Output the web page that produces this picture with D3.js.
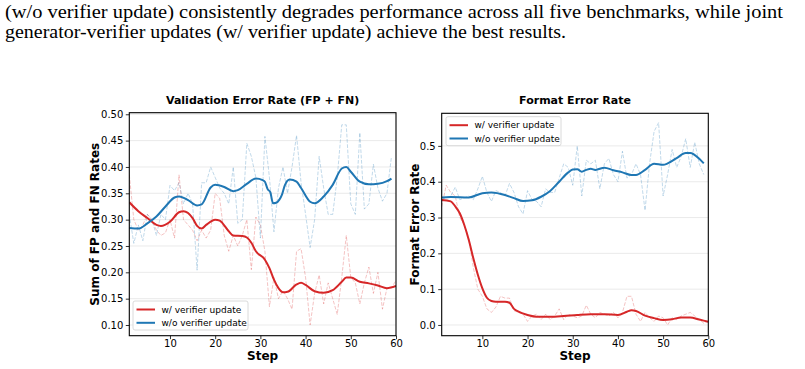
<!DOCTYPE html>
<html>
<head>
<meta charset="utf-8">
<script src="https://cdn.jsdelivr.net/npm/d3@7"></script>
<style>
  body { margin: 0; background: #fff; }
  svg { display: block; }
</style>
</head>
<body>
<svg id="fig" width="805" height="369"></svg>
<script>
// caption lines from the paper
const captionLines = [
    '(w/o verifier update) consistently degrades performance across all five benchmarks, while joint',
    'generator-verifier updates (w/ verifier update) achieve the best results.'
];

const seriesNames = ['w/ verifier update', 'w/o verifier update'];
const xTicks = [10, 20, 30, 40, 50, 60];

// --- Validation error rate: raw per-step values (step 1..n)
const valRawWith = [0.385, 0.30, 0.28, 0.29, 0.31, 0.30, 0.28, 0.27, 0.275, 0.30,
    0.265, 0.385, 0.30, 0.29, 0.28, 0.26, 0.28, 0.265, 0.28, 0.35,
    0.34, 0.27, 0.24, 0.27, 0.25, 0.27, 0.30, 0.205, 0.305, 0.29,
    0.24, 0.135, 0.19, 0.15, 0.165, 0.15, 0.13, 0.24, 0.245, 0.19,
    0.10, 0.16, 0.195, 0.14, 0.18, 0.15, 0.12, 0.19, 0.27, 0.19,
    0.18, 0.14, 0.18, 0.21, 0.16, 0.20, 0.13, 0.17, 0.17, 0.185];
const valRawWithout = [0.31, 0.255, 0.29, 0.26, 0.31, 0.30, 0.27, 0.31, 0.30, 0.365,
    0.355, 0.37, 0.33, 0.35, 0.33, 0.204, 0.37, 0.37, 0.40, 0.38,
    0.36, 0.35, 0.33, 0.40, 0.293, 0.30, 0.445, 0.42, 0.38, 0.265,
    0.458, 0.38, 0.277, 0.36, 0.40, 0.35, 0.40, 0.46, 0.37, 0.31,
    0.247, 0.30, 0.42, 0.36, 0.31, 0.31, 0.38, 0.48, 0.48, 0.33,
    0.31, 0.465, 0.32, 0.33, 0.405, 0.36, 0.335, 0.35, 0.42];

// smoothed curves (read at selected steps)
const valSmoothWithSteps = [1, 3, 5, 7, 8, 10, 12, 13, 15, 16, 17, 18, 20, 21, 23, 24, 26, 27, 28, 29,
    31, 32, 33, 34, 35, 36, 38, 39, 40, 42, 44, 46, 48, 49, 50, 52, 54, 56, 58, 60];
const valSmoothWith = [0.333, 0.316, 0.303, 0.290, 0.288, 0.296, 0.314, 0.316, 0.303, 0.288, 0.283, 0.290, 0.300, 0.298, 0.278, 0.270,
    0.269, 0.266, 0.256, 0.240, 0.224, 0.208, 0.186, 0.170, 0.162, 0.163, 0.177, 0.180, 0.176, 0.164, 0.161, 0.166,
    0.182, 0.190, 0.190, 0.182, 0.179, 0.175, 0.170, 0.174];
const valSmoothWithoutSteps = [1, 3, 5, 7, 9, 11, 12, 14, 16, 17, 19, 20, 22, 24, 25, 27, 29, 30.5, 31, 31.6,
    32.2, 32.8, 33.5, 34.2, 34.8, 35.4, 36.5, 38, 39, 41, 42, 44, 46, 48, 49, 50, 52, 54, 56, 58, 59];
const valSmoothWithout = [0.284, 0.283, 0.293, 0.306, 0.325, 0.342, 0.344, 0.337, 0.327, 0.329, 0.361, 0.366, 0.362, 0.354, 0.356,
    0.368, 0.378, 0.375, 0.372, 0.358, 0.352, 0.331, 0.332, 0.338, 0.348, 0.365, 0.376, 0.372, 0.360, 0.334, 0.331, 0.344,
    0.366, 0.397, 0.400, 0.391, 0.372, 0.367, 0.368, 0.373, 0.378];

// --- Format error rate
const fmtRawWith = [0.33, 0.39, 0.37, 0.36, 0.30, 0.28, 0.24, 0.16, 0.10, 0.08,
    0.045, 0.035, 0.05, 0.08, 0.075, 0.075, 0.04, 0.035, 0.03, 0.01,
    0.025, 0.03, 0.015, 0.03, 0.015, 0.025, 0.045, 0.015, 0.03, 0.025,
    0.02, 0.025, 0.055, 0.03, 0.02, 0.035, 0.03, 0.025, 0.035, 0.02,
    0.035, 0.08, 0.08, 0.03, 0.01, 0.035, 0.02, 0.01, 0.025, 0.02,
    0.0, 0.02, 0.015, 0.025, 0.03, 0.035, 0.025, 0.015, 0.005, 0.01];
const fmtRawWithout = [0.35, 0.355, 0.36, 0.385, 0.35, 0.355, 0.36, 0.35, 0.38, 0.415,
    0.37, 0.345, 0.375, 0.37, 0.36, 0.395, 0.37, 0.33, 0.31, 0.375,
    0.35, 0.345, 0.33, 0.38, 0.37, 0.37, 0.41, 0.45, 0.44, 0.39,
    0.50, 0.36, 0.46, 0.45, 0.46, 0.38, 0.45, 0.465, 0.42, 0.40,
    0.485, 0.41, 0.42, 0.45, 0.42, 0.32, 0.45, 0.54, 0.565, 0.36,
    0.42, 0.49, 0.44, 0.47, 0.52, 0.44, 0.51, 0.45, 0.42];

const fmtSmoothWithSteps = [1, 3, 4, 5, 6, 7, 8, 9, 10, 11, 12, 13, 14, 15, 16, 17, 18, 20, 22, 25,
    28, 31, 34, 37, 40, 42, 43, 44, 46, 48, 50, 52, 54, 56, 58, 60];
const fmtSmoothWith = [0.349, 0.345, 0.331, 0.312, 0.279, 0.237, 0.186, 0.140, 0.102, 0.076, 0.067, 0.065, 0.065, 0.065,
    0.062, 0.045, 0.037, 0.028, 0.023, 0.023, 0.025, 0.028, 0.030, 0.030, 0.028, 0.037, 0.041, 0.039, 0.026,
    0.019, 0.014, 0.016, 0.021, 0.021, 0.015, 0.009];
const fmtSmoothWithoutSteps = [1, 3, 7, 10, 12, 15, 17, 19, 21, 23, 25, 27, 29, 30, 31, 32, 33, 34, 35, 37,
    39, 41, 43, 44, 46, 48, 50, 51, 53, 55, 56, 58, 59];
const fmtSmoothWithout = [0.356, 0.357, 0.356, 0.368, 0.370, 0.363, 0.354, 0.346, 0.348, 0.358, 0.374, 0.400, 0.426,
    0.434, 0.435, 0.428, 0.433, 0.436, 0.433, 0.439, 0.432, 0.426, 0.419, 0.419, 0.433, 0.450, 0.447, 0.451,
    0.466, 0.480, 0.480, 0.464, 0.451];

const valTicks = [0.10, 0.15, 0.20, 0.25, 0.30, 0.35, 0.40, 0.45, 0.50];
const fmtTicks = [0.0, 0.1, 0.2, 0.3, 0.4, 0.5];

const RED = '#d62728';
const BLUE = '#1f77b4';
const svg = d3.select('#fig');

// caption (justified first line)
svg.append('text')
    .attr('x', 5).attr('y', 18)
    .attr('textLength', 778).attr('lengthAdjust', 'spacingAndGlyphs')
    .style('font-family', '"Liberation Serif", "DejaVu Serif", serif')
    .style('font-size', '18px')
    .text(captionLines[0]);
svg.append('text')
    .attr('x', 5).attr('y', 37.5)
    .attr('textLength', 561).attr('lengthAdjust', 'spacingAndGlyphs')
    .style('font-family', '"Liberation Serif", "DejaVu Serif", serif')
    .style('font-size', '18px')
    .text(captionLines[1]);

const toPoints = (steps, vals) => vals.map((v, i) => [steps ? steps[i] : i + 1, v]);

function drawPanel(cfg) {
    const x = d3.scaleLinear().domain([1, 60]).range([cfg.left, cfg.right]);
    const y = d3.scaleLinear().domain(cfg.yDomain).range([cfg.bottom, cfg.top]);
    const g = svg.append('g').style('font-family', '"DejaVu Sans", sans-serif');

    // grid
    g.append('g').selectAll('line')
        .data(cfg.yTicks)
        .join('line')
        .attr('x1', cfg.left).attr('x2', cfg.right)
        .attr('y1', d => y(d)).attr('y2', d => y(d))
        .attr('stroke', '#b0b0b0').attr('stroke-opacity', 0.3).attr('stroke-width', 0.9);

    const clipId = 'clip-' + cfg.id;
    g.append('clipPath').attr('id', clipId)
        .append('rect')
        .attr('x', cfg.left).attr('y', cfg.top)
        .attr('width', cfg.right - cfg.left).attr('height', cfg.bottom - cfg.top);

    const rawLine = d3.line().x(d => x(d[0])).y(d => y(d[1]));
    const smoothLine = d3.line().x(d => x(d[0])).y(d => y(d[1])).curve(d3.curveMonotoneX);
    const plot = g.append('g').attr('clip-path', `url(#${clipId})`);

    [[cfg.rawWith, RED], [cfg.rawWithout, BLUE]].forEach(([vals, color]) => {
        plot.append('path')
            .datum(toPoints(null, vals))
            .attr('d', rawLine)
            .attr('fill', 'none')
            .attr('stroke', color).attr('stroke-opacity', 0.28)
            .attr('stroke-width', 1).attr('stroke-dasharray', '3.7,1.6');
    });
    [[cfg.smWithSteps, cfg.smWith, RED], [cfg.smWithoutSteps, cfg.smWithout, BLUE]].forEach(([s, vals, color]) => {
        plot.append('path')
            .datum(toPoints(s, vals))
            .attr('d', smoothLine)
            .attr('fill', 'none')
            .attr('stroke', color).attr('stroke-width', 2);
    });

    // axes
    const xAxis = g.append('g')
        .attr('transform', `translate(0,${cfg.bottom})`)
        .call(d3.axisBottom(x).tickValues(xTicks).tickSize(3.5).tickPadding(1));
    const yAxis = g.append('g')
        .attr('transform', `translate(${cfg.left},0)`)
        .call(d3.axisLeft(y).tickValues(cfg.yTicks).tickFormat(d3.format(cfg.fmt)).tickSize(3.5).tickPadding(2.5));
    [xAxis, yAxis].forEach(a => {
        a.select('.domain').remove();
        a.selectAll('line').attr('stroke', '#000').attr('stroke-width', 0.8);
        a.selectAll('text').style('font-size', '10px').style('font-family', '"DejaVu Sans", sans-serif').attr('fill', '#000');
    });

    g.append('rect')
        .attr('x', cfg.left).attr('y', cfg.top)
        .attr('width', cfg.right - cfg.left).attr('height', cfg.bottom - cfg.top)
        .attr('fill', 'none').attr('stroke', '#000').attr('stroke-width', 1.1);

    // titles
    g.append('text')
        .attr('x', (cfg.left + cfg.right) / 2).attr('y', 104)
        .attr('text-anchor', 'middle')
        .style('font-size', '11px').style('font-weight', 'bold')
        .text(cfg.title);
    g.append('text')
        .attr('x', (cfg.left + cfg.right) / 2).attr('y', 359.5)
        .attr('text-anchor', 'middle')
        .style('font-size', '12px').style('font-weight', 'bold')
        .text('Step');
    g.append('text')
        .attr('transform', `translate(${cfg.yLabelX},${(cfg.top + cfg.bottom) / 2}) rotate(-90)`)
        .attr('text-anchor', 'middle')
        .style('font-size', '12px').style('font-weight', 'bold')
        .text(cfg.yLabel);

    // legend
    const lg = g.append('g').attr('transform', `translate(${cfg.legend[0]},${cfg.legend[1]})`);
    lg.append('rect')
        .attr('width', 115).attr('height', 29).attr('rx', 2)
        .attr('fill', '#fff').attr('fill-opacity', 0.8)
        .attr('stroke', '#d0d0d0').attr('stroke-width', 0.8);
    seriesNames.forEach((name, i) => {
        const yy = 8.5 + i * 13.3;
        lg.append('line')
            .attr('x1', 3.5).attr('x2', 22).attr('y1', yy).attr('y2', yy)
            .attr('stroke', i === 0 ? RED : BLUE).attr('stroke-width', 2);
        lg.append('text')
            .attr('x', 28.5).attr('y', yy + 3.2)
            .style('font-size', '9px')
            .text(name);
    });
}

drawPanel({
    id: 'val', left: 129.3, right: 396, top: 112.7, bottom: 335.7,
    yDomain: [0.0797, 0.503], yTicks: valTicks, fmt: '.2f',
    title: 'Validation Error Rate (FP + FN)', yLabel: 'Sum of FP and FN Rates', yLabelX: 99,
    rawWith: valRawWith, rawWithout: valRawWithout,
    smWithSteps: valSmoothWithSteps, smWith: valSmoothWith,
    smWithoutSteps: valSmoothWithoutSteps, smWithout: valSmoothWithout,
    legend: [133, 301]
});

drawPanel({
    id: 'fmt', left: 441.7, right: 708.3, top: 113.3, bottom: 335.7,
    yDomain: [-0.030, 0.591], yTicks: fmtTicks, fmt: '.1f',
    title: 'Format Error Rate', yLabel: 'Format Error Rate', yLabelX: 419,
    rawWith: fmtRawWith, rawWithout: fmtRawWithout,
    smWithSteps: fmtSmoothWithSteps, smWith: fmtSmoothWith,
    smWithoutSteps: fmtSmoothWithoutSteps, smWithout: fmtSmoothWithout,
    legend: [446, 116.7]
});
</script>
</body>
</html>
